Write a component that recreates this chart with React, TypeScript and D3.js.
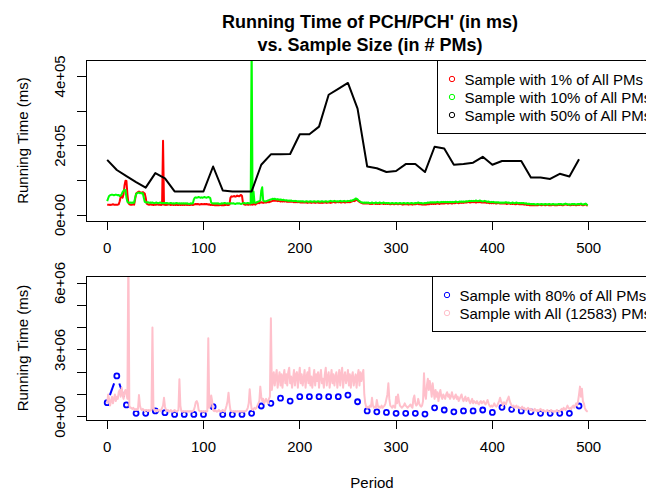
import React from 'react';
import * as d3 from 'd3';

// running time, thousands of ms, one value per period 0..499
const pct1 = `
30 30 30 29 30 30 31 30 30 30 30 30 31 40 52 55 50 60 85 99
98 60 35 31 30 30 30 31 30 45 62 64 66 68 66 65 64 66 64 62
50 33 31 30 30 31 30 30 29 30 30 30 31 30 30 30 29 30 214 30
30 29 30 30 31 30 29 30 30 29 30 29 30 29 29 30 29 30 29 30
29 30 30 29 30 29 29 30 30 29 30 31 32 31 32 31 30 31 32 31
31 32 31 32 31 30 31 29 30 29 29 29 28 29 28 29 28 29 29 28
29 28 29 29 30 29 29 30 50 54 53 54 55 53 54 56 55 54 56 58
55 35 31 30 30 31 30 30 31 30 31 30 32 31 30 33 34 35 34 36
37 36 35 36 37 36 37 38 37 38 39 40 41 42 41 42 41 40 41 40
39 40 39 40 39 40 39 38 39 38 39 38 39 38 37 38 37 38 37 38
37 36 37 36 37 36 37 36 35 36 37 36 35 36 37 36 35 36 37 36
35 36 35 36 35 36 37 36 35 36 37 36 35 36 37 38 37 36 37 38
37 38 37 36 37 38 37 36 37 38 37 38 37 38 39 40 41 40 43 45
42 40 38 36 35 34 33 34 33 34 33 34 33 32 33 32 33 34 33 32
33 32 33 32 33 34 33 32 33 32 33 32 33 32 31 32 33 32 31 32
33 32 31 32 33 32 31 30 31 32 31 32 31 30 31 32 31 30 31 32
31 32 33 32 31 32 31 30 31 30 31 30 31 32 31 32 33 32 33 32
33 32 33 34 33 32 33 34 33 34 33 34 35 34 33 34 35 34 33 34
35 34 35 36 35 34 35 36 35 36 35 36 37 36 37 38 37 36 37 38
37 38 37 36 37 38 37 38 37 36 37 36 37 36 35 36 35 34 35 34
35 34 35 34 33 34 35 34 33 34 33 34 33 34 33 32 33 34 33 32
33 32 33 32 31 32 33 32 31 32 31 32 31 30 31 30 29 30 29 28
29 28 29 28 29 28 29 28 29 30 29 28 29 30 29 28 29 30 29 28
29 28 29 30 29 28 29 28 29 30 29 30 29 28 29 30 31 30 29 30
29 28 29 30 29 30 29 28 29 30 29 30 31 29 28 29 30 31 28 27
`.trim().split(/\s+/).map(Number);

const pct10 = `
40 48 55 57 58 59 58 57 58 59 58 57 58 55 56 60 66 70 73 72
50 38 36 35 36 35 36 35 36 50 60 63 64 65 63 64 62 63 50 38
37 36 37 36 35 36 35 36 35 34 35 36 35 34 35 36 35 34 35 34
35 34 35 34 33 34 35 34 33 34 33 34 35 34 33 34 33 34 33 34
33 34 33 34 33 32 33 34 33 34 45 50 51 50 51 52 51 50 51 50
51 52 51 50 51 52 51 49 36 34 33 34 33 34 33 34 33 32 33 34
33 34 35 34 33 34 33 34 33 34 33 34 33 32 33 34 33 34 33 32
33 34 35 34 33 34 35 34 33 34 500 35 68 36 35 36 38 39 40 42
70 80 42 40 39 40 41 42 43 44 45 46 47 46 47 46 45 46 45 44
45 44 43 44 43 42 43 42 41 42 41 42 41 40 41 40 41 40 39 40
39 40 39 40 39 38 39 40 39 38 39 40 39 38 39 40 39 38 39 40
39 38 39 40 39 38 39 40 39 38 39 40 41 40 39 40 41 40 39 40
39 40 41 40 39 40 41 40 39 40 41 40 41 42 41 43 44 45 48 47
45 42 40 38 37 36 35 36 35 36 35 36 35 34 35 36 35 34 35 36
35 34 35 36 35 34 35 36 35 34 35 34 35 34 33 34 35 34 33 34
35 34 33 34 35 34 33 34 35 34 33 34 35 34 33 34 35 34 33 34
35 34 35 36 35 34 35 34 33 34 35 34 35 36 35 36 37 36 37 36
37 36 37 38 37 36 37 38 37 38 37 38 37 38 37 38 37 38 37 38
37 38 39 38 37 38 39 38 39 38 39 38 39 40 39 40 41 40 41 40
41 40 41 42 41 40 41 42 41 40 39 40 41 40 39 38 39 38 37 38
37 38 37 36 37 36 37 36 35 36 35 36 35 36 37 36 35 36 35 34
35 36 35 34 35 36 35 34 35 34 35 34 35 34 33 34 33 32 33 32
31 32 31 32 31 30 31 32 31 30 31 32 31 30 31 32 31 30 31 32
31 30 31 32 31 30 31 30 31 32 31 32 31 30 31 32 33 32 31 30
31 30 31 32 31 32 31 30 31 32 31 32 33 31 30 31 32 33 30 28
`.trim().split(/\s+/).map(Number);

// sampled every 10 periods
const samplePeriods = [
  0, 10, 20, 30, 40, 50, 60, 70, 80, 90, 100, 110, 120, 130, 140, 150, 160, 170, 180, 190,
  200, 210, 220, 230, 240, 250, 260, 270, 280, 290, 300, 310, 320, 330, 340, 350, 360, 370, 380, 390,
  400, 410, 420, 430, 440, 450, 460, 470, 480, 490,
];
// thousands of ms
const pct50 = [
  159, 130, 112, 95, 79, 121, 106, 68, 68, 68, 68, 140, 71, 68, 68, 68, 145, 175, 175, 176,
  233, 233, 255, 347, 364, 381, 307, 140, 135, 124, 127, 147, 147, 124, 197, 192, 145, 147, 151, 168,
  145, 156, 156, 156, 108, 108, 104, 119, 111, 161,
];
// hundreds of thousands of ms
const pct80 = [
  6.3, 18.3, 5.3, 1.5, 1.5, 2.6, 1.8, 1.0, 1.0, 1.0, 1.0, 4.5, 1.0, 1.0, 1.0, 1.5, 4.8, 6.0, 8.3, 7.0,
  9.0, 9.0, 9.0, 9.0, 9.0, 9.7, 6.7, 2.6, 2.2, 1.9, 1.5, 1.5, 1.5, 1.2, 4.0, 3.0, 2.2, 2.6, 2.6, 3.0,
  1.9, 4.2, 3.3, 2.6, 2.2, 1.5, 1.5, 1.5, 1.5, 4.8,
];

// hundreds of thousands of ms, one value per period 0..499
const allPMs = `
6 10 8 5 7 9 6 8 10 7 9 8 11 12 9 13 10 8 11 12
10 8 75 5 4 4 3.5 4 3.5 3 3.5 3 3.5 9.7 5 3.5 3 3.5 3 2.5
3 3 2.5 3 2.5 3 3 40 4 3 2.5 3 2.5 3 3 2.5 3 4 5 8.5
4.5 3 2.5 3 2.5 2.2 3 2.5 2.2 2.5 3 2.5 2.2 2.5 3 16.8 5 2.5 2.2 2.5
2.2 2.5 2.2 2.5 2.2 2.5 2.2 2.5 2.2 2.5 3 4.5 6.5 7 6 3 2.5 2.2 2.5 2.2
2.5 2.2 2.5 2.2 2.5 35.2 4 5 9.5 7 3 2.5 3 2.5 2.2 2.5 3 2.5 2.2 2.5
3 2.5 2.2 3.5 5 7 10.8 6 3 2.5 2.2 2.5 2.2 2.5 2.2 2.5 2.2 2.5 2.2 2.5
2.2 2.5 2.2 2.5 2.5 3 4 6 12.3 7 3.5 3 3.5 4 3.5 4 5 6 7 13.5
9 7 8 6 7 8 7 6 8 9 44.2 12 16 20 14 18 21 13 17 20
14 19 13 18 21 15 19 14 20 22 15 18 13 17 21 14 19 20 13 18
22 15 19 14 17 21 13 18 20 15 22 14 18 13 17 21 14 19 16 20
13 18 21 15 17 13 19 22 14 18 20 13 17 21 15 19 14 18 20 13
17 21 14 19 22 13 18 20 15 17 21 14 19 13 18 20 14 17 19 13
18 21 14 20 16 19 21 10 6 4.5 4 4.5 4 5 4.5 8.5 5 4 4.5 4
7.5 5 4 4.5 4 5 4 4.5 5 6 8 10 15 8 5 4.5 4 5 4.5 4
9 6 10 7 5 4.5 4 4.5 5 6 5 4.5 4 4.5 5 5.5 4.5 4 8 9.5
6 5 5.5 8 6 5 4.5 5 7 19.5 10 8 14 17 12 16 13 9 15 11
8 12 9 11 7 10 12 9 8 10 9 8 10 11 9 10 8 9 11 9
8 9 10 8 9 7 8 9 10 8 7 8 9 7 8 8.5 7 6 7 8
6 7 6.5 6 7 6 5.5 6.5 7 6 6.5 7 6 5.5 6.5 7.5 6 5 4.5 5
4.5 5 6 5 4.5 5 6 7 8.5 7 6 5 6.5 6 5.5 7 8 9 7 6
5 4.5 5 4 4.5 5 4 4.5 4 3.5 4 4.5 3.5 4 3.5 3 3.5 4 3.5 3
3.5 3 2.5 3 3.5 3 2.5 3 2.5 3 3.5 3 2.5 3 2.5 2.2 2.5 3 2.5 2.2
2.5 3 2.5 2.2 2.5 2.2 2.5 3 2.5 2.2 2.5 3 3.5 3 4 3.5 3 4 5 4
3.5 4 3.5 4.5 5 4 5 6 5 7 10 13.5 9 12.5 7 6 4 3 2.5 2.2
`.trim().split(/\s+/).map(Number);

const xTicks = [0, 100, 200, 300, 400, 500];
const topTicks = [0, 1e5, 2e5, 3e5, 4e5];
const topTickLabels = ['0e+00', '', '2e+05', '', '4e+05'];
const botTicks = [0, 1e6, 2e6, 3e6, 4e6, 5e6, 6e6];
const botTickLabels = ['0e+00', '', '', '3e+06', '', '', '6e+06'];

const topLegend = [
  { label: 'Sample with 1% of All PMs', color: '#ff0000' },
  { label: 'Sample with 10% of All PMs', color: '#00ff00' },
  { label: 'Sample with 50% of All PMs', color: '#000000' },
];
const botLegend = [
  { label: 'Sample with 80% of All PMs', color: '#0000ff' },
  { label: 'Sample with All (12583) PMs', color: '#ffc0cb' },
];

const W = 646;
const H = 493;
const left = 86;
const right = 658;
const font = 'Liberation Sans, Arial, Helvetica, sans-serif';

const x = d3.scaleLinear().domain([-22, 572]).range([left, right]);
const yTop = d3.scaleLinear().domain([-17200, 447200]).range([221, 60]);
const yBot = d3.scaleLinear().domain([-148000, 6315000]).range([420, 276]);

const Axes = ({ y, ticks, labels, label }: any) => {
  const [b, t] = y.range();
  const mid = (b + t) / 2;
  return (
    <g fontFamily={font} fontSize={15} fill="#000">
      <rect x={left} y={t} width={right - left} height={b - t} fill="none" stroke="#000" strokeWidth={1} shapeRendering="crispEdges" />
      <line x1={x(0)} x2={x(500)} y1={b} y2={b} stroke="#000" shapeRendering="crispEdges" />
      {xTicks.map(v => (
        <g key={v}>
          <line x1={x(v)} x2={x(v)} y1={b} y2={b + 9} stroke="#000" shapeRendering="crispEdges" />
          <text x={x(v)} y={b + 32} textAnchor="middle">{v}</text>
        </g>
      ))}
      <line x1={left} x2={left} y1={y(ticks[0])} y2={y(ticks[ticks.length - 1])} stroke="#000" shapeRendering="crispEdges" />
      {ticks.map((v: number, i: number) => (
        <g key={v}>
          <line x1={left - 9} x2={left} y1={y(v)} y2={y(v)} stroke="#000" shapeRendering="crispEdges" />
          {labels[i] && (
            <text transform={`translate(64.5,${y(v)}) rotate(-90)`} textAnchor="middle">{labels[i]}</text>
          )}
        </g>
      ))}
      <text transform={`translate(28,${mid}) rotate(-90)`} textAnchor="middle">{label}</text>
    </g>
  );
};

const Legend = ({ x0, y0, items }: any) => (
  <g fontFamily={font} fontSize={15}>
    <rect x={x0} y={y0} width={right - x0} height={items.length * 18 + 19} fill="#fff" stroke="#000" strokeWidth={1} shapeRendering="crispEdges" />
    {items.map((it: any, i: number) => (
      <g key={it.label}>
        <circle cx={x0 + 15} cy={y0 + 19 + i * 18} r={2.7} fill="none" stroke={it.color} strokeWidth={1} />
        <text x={x0 + 27.5} y={y0 + 24.5 + i * 18} fill="#000">{it.label}</text>
      </g>
    ))}
  </g>
);

export default function App() {
  const topLine = d3.line<number>().x((_, i) => x(i)).y(d => yTop(d * 1000));
  const blackLine = d3.line<number>().x((_, i) => x(samplePeriods[i])).y(d => yTop(d * 1000));
  const pinkLine = d3.line<number>().x((_, i) => x(i)).y(d => yBot(d * 1e5));

  const bluePts = pct80.map((v, i) => [x(samplePeriods[i]), yBot(v * 1e5)]);
  const gap = 8;
  const blueSegs = bluePts.slice(1).map((p, i) => {
    const q = bluePts[i];
    const dx = p[0] - q[0];
    const dy = p[1] - q[1];
    const len = Math.hypot(dx, dy);
    if (len <= 2 * gap) return null;
    const ux = dx / len;
    const uy = dy / len;
    return [q[0] + ux * gap, q[1] + uy * gap, p[0] - ux * gap, p[1] - uy * gap];
  });

  return (
    <svg width={W} height={H} style={{ position: 'absolute', left: 0, top: 0, background: '#fff' }}>
      <defs>
        <clipPath id="clipTop"><rect x={left} y={60} width={right - left} height={161} /></clipPath>
        <clipPath id="clipBot"><rect x={left} y={276} width={right - left} height={144} /></clipPath>
      </defs>
      <rect width={W} height={H} fill="#fff" />

      <g fontFamily={font} fontSize={18} fontWeight="bold" textAnchor="middle">
        <text x={370} y={28}>Running Time of PCH/PCH' (in ms)</text>
        <text x={370} y={51}>vs. Sample Size (in # PMs)</text>
      </g>

      <g clipPath="url(#clipTop)" fill="none" strokeWidth={2} strokeLinejoin="round">
        <path d={topLine(pct1) || ''} stroke="#ff0000" />
        <path d={topLine(pct10) || ''} stroke="#00ff00" />
        <path d={blackLine(pct50) || ''} stroke="#000" />
      </g>
      <Axes y={yTop} ticks={topTicks} labels={topTickLabels} label="Running Time (ms)" />
      <Legend x0={437} y0={60} items={topLegend} />

      <g clipPath="url(#clipBot)" fill="none" strokeWidth={2}>
        {blueSegs.map((s, i) => s && (
          <line key={i} x1={s[0]} y1={s[1]} x2={s[2]} y2={s[3]} stroke="#0000ff" />
        ))}
        {bluePts.map((p, i) => (
          <circle key={i} cx={p[0]} cy={p[1]} r={2.5} stroke="#0000ff" strokeWidth={1.8} />
        ))}
        <path d={pinkLine(allPMs) || ''} stroke="#ffc0cb" strokeLinejoin="round" />
      </g>
      <Axes y={yBot} ticks={botTicks} labels={botTickLabels} label="Running Time (ms)" />
      <Legend x0={432} y0={276} items={botLegend} />

      <text x={372} y={488} textAnchor="middle" fontFamily={font} fontSize={15}>Period</text>
    </svg>
  );
}
